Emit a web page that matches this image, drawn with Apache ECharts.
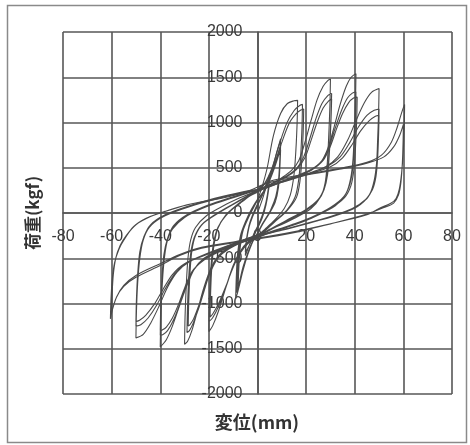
<!DOCTYPE html>
<html>
<head>
<meta charset="utf-8">
<script src="https://cdn.jsdelivr.net/npm/echarts@6/dist/echarts.min.js"></script>
<style>
  html, body { margin: 0; padding: 0; background: #ffffff; }
  #chart { width: 470px; height: 445px; }
</style>
</head>
<body>
<div id="chart"></div>
<script>
// Cyclic load test: displacement (mm) vs load (kgf), grouped by target amplitude.
// Each array is the recorded path [displacement, load] in loading order.

const xTicks = [-80, -60, -40, -20, 0, 20, 40, 60, 80];
const yTicks = [-2000, -1500, -1000, -500, 0, 500, 1000, 1500, 2000];

const amp5 = [
  [0,0],[2,150],[4,330],[5,430],[4.6,300],[3.5,120],[2,-20],[0,-150],[-2,-260],[-4,-400],[-5,-470],
  [-4.6,-330],[-3.5,-160],[-2,-40],[0,80],
  [2,200],[4,350],[5,400],[4.6,260],[3.5,90],[2,-50],[0,-170],[-2,-280],[-4,-390],[-5,-430],
  [-4.6,-300],[-3.5,-140],[-2,-20],[0,100]
];

const amp10 = [
  [0,100],[2,200],[4,320],[6,480],[8,680],[9.5,820],[9.2,600],[8.6,350],[7.5,180],[5.5,40],[3,-80],
  [0,-220],[-2,-320],[-4,-460],[-6,-640],[-8,-860],[-9,-950],[-8.7,-700],[-8.2,-450],[-7,-250],
  [-5,-100],[-2.5,40],[0,150],
  [3,260],[5,380],[7,540],[8.7,680],[9.5,750],[9.2,530],[8.6,300],[7.5,140],[5,10],[2,-120],[0,-220],
  [-2,-310],[-4,-440],[-6,-600],[-7.5,-770],[-8.5,-880],[-8.2,-650],[-7.6,-400],[-6.5,-220],[-4,-60],
  [-1.5,70],[0,140],
  [3,250],[5,360],[7,500],[8.7,640],[9.5,700],[9.2,500],[8.6,280],[7.3,120],[5,0],[2,-130],[0,-230],
  [-2,-320],[-4,-450],[-6,-600],[-7.3,-750],[-8,-850],[-7.7,-620],[-7.1,-380],[-6,-200],[-3.5,-40],
  [-1,90],[0,140]
];

const amp20 = [
  [0,140],[2,300],[4,500],[6.5,850],[9.5,1100],[12.3,1210],[15,1240],[16.5,1245],
  [16.3,1000],[15.8,700],[15,420],[13.5,200],[11,50],[7,-80],[3,-180],[0,-250],[-4,-320],[-7,-420],
  [-10,-580],[-13,-820],[-16,-1080],[-18.5,-1250],[-20,-1310],
  [-19.8,-1000],[-19.2,-650],[-18.3,-380],[-16.5,-180],[-13,-20],[-8,100],[-3,200],[0,250],
  [3,330],[6,500],[9,760],[12,990],[15,1130],[17.5,1190],[18.5,1200],[18.3,950],[17.8,650],[17,380],
  [15.5,180],[12,30],[7,-90],[3,-190],[0,-260],[-4,-330],[-7,-430],[-10,-590],[-13,-820],[-16,-1030],
  [-18.5,-1160],[-20,-1200],[-19.8,-950],[-19.2,-620],[-18.2,-350],[-16.3,-160],[-12,0],[-7,120],
  [-3,200],[0,240],
  [3,320],[7,530],[10,780],[13,990],[16,1100],[18,1140],[19,1150],[18.8,900],[18.3,620],[17.5,360],
  [16,170],[12,20],[7,-100],[3,-200],[0,-270],[-4,-340],[-7,-440],[-10,-600],[-13,-810],[-16,-1000],
  [-18.3,-1110],[-19.5,-1150],[-19.3,-900],[-18.8,-600],[-17.8,-340],[-16,-150],[-12,0],[-7,110],
  [-3,190],[0,230]
];

const amp30 = [
  [0,230],[5,310],[10,390],[14,470],[17,580],[19.5,780],[22,1020],[24.5,1250],[27,1400],[29,1465],[30,1480],
  [29.8,1200],[29.3,850],[28.7,550],[27.8,330],[26,180],[22,50],[15,-60],[8,-150],[0,-240],[-6,-300],
  [-12,-380],[-16,-470],[-19,-600],[-22,-820],[-24.5,-1060],[-27,-1300],[-28.8,-1420],[-30,-1450],
  [-29.8,-1150],[-29.3,-800],[-28.6,-500],[-27.5,-300],[-25.5,-160],[-21,-30],[-14,80],[-7,170],[0,250],
  [6,330],[12,410],[16,490],[19,620],[21.5,820],[24,1040],[26.5,1210],[29,1300],[30.5,1320],
  [30.2,1050],[29.6,720],[28.8,450],[27.5,280],[25,150],[20,40],[12,-80],[5,-180],[0,-250],[-6,-310],
  [-12,-390],[-16,-480],[-19,-620],[-21.5,-820],[-24,-1040],[-26.5,-1220],[-28,-1300],[-29,-1320],
  [-28.8,-1050],[-28.3,-720],[-27.5,-450],[-26,-270],[-23,-130],[-17,-10],[-10,100],[-4,190],[0,240],
  [6,320],[12,400],[16,480],[19.5,610],[22,800],[24.5,1000],[27,1160],[29.3,1240],[30.5,1260],
  [30.2,1000],[29.6,680],[28.8,420],[27.4,260],[25,140],[20,30],[12,-90],[5,-190],[0,-260],[-6,-320],
  [-12,-400],[-16,-490],[-19,-630],[-21.5,-810],[-24,-1010],[-26.3,-1170],[-27.8,-1235],[-28.5,-1250],
  [-28.3,-1000],[-27.8,-680],[-27,-420],[-25.5,-250],[-22.5,-120],[-16,0],[-9,110],[-3,200],[0,240]
];

const amp40 = [
  [0,240],[8,320],[16,400],[22,470],[26,560],[29,720],[31.5,950],[34,1200],[36.5,1400],[38.5,1500],[40.5,1540],
  [40.3,1250],[39.8,900],[39.3,600],[38.3,380],[36.5,220],[32,80],[24,-30],[14,-130],[5,-210],[0,-250],
  [-8,-320],[-16,-410],[-22,-500],[-26,-620],[-29,-800],[-32,-1020],[-35,-1250],[-37.5,-1400],[-40,-1480],
  [-39.8,-1200],[-39.3,-850],[-38.5,-550],[-37.3,-330],[-35,-180],[-30,-50],[-22,60],[-12,160],[-4,230],[0,260],
  [8,330],[16,410],[22,480],[26.5,580],[29.5,740],[32,940],[34.5,1130],[37,1270],[39,1325],[40.5,1340],
  [40.3,1080],[39.8,760],[39.2,500],[38,320],[35.5,180],[30,60],[22,-50],[12,-150],[4,-220],[0,-260],
  [-8,-330],[-16,-420],[-22,-510],[-26.5,-640],[-29.5,-820],[-32,-1010],[-34.5,-1180],[-37,-1300],[-39,-1345],[-40,-1350],
  [-39.8,-1080],[-39.3,-750],[-38.5,-480],[-37,-290],[-34.5,-150],[-29,-30],[-20,80],[-10,170],[-3,230],[0,250],
  [8,320],[16,400],[22,470],[27,580],[30,740],[32.5,930],[35,1100],[37.5,1220],[39.5,1270],[41,1280],
  [40.8,1030],[40.3,720],[39.6,470],[38.4,300],[35.8,170],[30,50],[22,-60],[12,-160],[4,-230],[0,-270],
  [-8,-340],[-16,-430],[-22,-520],[-27,-650],[-30,-830],[-32.5,-1010],[-35,-1160],[-37.5,-1260],[-39.3,-1295],[-40,-1300],
  [-39.8,-1040],[-39.3,-720],[-38.5,-460],[-37,-280],[-34.5,-140],[-29,-20],[-20,90],[-10,180],[-3,240],[0,260]
];

const amp50 = [
  [0,260],[10,350],[20,430],[28,510],[33,620],[37,800],[40.5,1020],[44,1220],[47,1335],[50,1375],
  [49.8,1100],[49.4,800],[49,560],[48,360],[46,200],[41,70],[32,-30],[20,-120],[10,-190],[0,-250],
  [-10,-340],[-20,-440],[-28,-540],[-33,-650],[-37,-820],[-40.5,-1030],[-44,-1220],[-47,-1340],[-50,-1380],
  [-49.8,-1100],[-49.3,-780],[-48.4,-500],[-47,-300],[-44.5,-160],[-39,-40],[-30,60],[-18,160],[-6,230],[0,260],
  [10,350],[20,430],[29,520],[34,620],[38,780],[41.5,950],[45,1080],[48,1135],[50,1150],
  [49.8,920],[49.4,650],[48.8,430],[47.5,280],[45,160],[40,60],[30,-40],[18,-130],[8,-200],[0,-250],
  [-10,-340],[-20,-440],[-29,-550],[-34,-670],[-38,-840],[-41.5,-1020],[-45,-1160],[-48,-1235],[-50,-1250],
  [-49.8,-1000],[-49.3,-700],[-48.4,-450],[-46.8,-270],[-44,-140],[-38,-30],[-28,70],[-16,160],[-5,230],[0,250],
  [10,340],[20,420],[30,510],[35,610],[39,760],[42.5,910],[46,1020],[48.5,1068],[50,1080],
  [49.8,860],[49.4,600],[48.7,400],[47.3,260],[44.5,150],[39,50],[29,-50],[17,-140],[7,-210],[0,-260],
  [-10,-350],[-20,-450],[-30,-560],[-35,-680],[-39,-850],[-42.5,-1010],[-46,-1130],[-48.5,-1185],[-50,-1200],
  [-49.8,-960],[-49.3,-680],[-48.4,-430],[-46.7,-260],[-44,-130],[-38,-20],[-28,80],[-16,170],[-5,240],[0,260]
];

const amp60 = [
  [0,260],[5,350],[20,430],[35,500],[45,560],[51,640],[55,780],[57.5,950],[59.3,1110],[60.5,1200],
  [60.4,1000],[60,700],[59.3,450],[58.3,260],[57,160],[55,110],[50,50],[45,-20],[30,-120],[18,-190],
  [4,-260],[-10,-320],[-23,-380],[-32,-460],[-40,-560],[-50,-690],[-55,-800],[-58,-930],[-59.8,-1080],
  [-60.5,-1170],[-60.3,-980],[-59.8,-750],[-58.8,-550],[-57,-400],[-55,-300],[-51,-150],[-46,-60],
  [-40,0],[-29,90],[-12,180],[-3,250],
  [4,330],[20,420],[35,490],[45,550],[52,620],[56,730],[58.5,860],[60,980],[59.9,800],[59.6,560],
  [59,340],[58,200],[56,110],[52,60],[45,-10],[30,-120],[18,-200],[4,-270],[-10,-330],[-23,-390],
  [-32,-470],[-40,-580],[-50,-710],[-55,-810],[-58,-930],[-60,-1100],[-59.8,-900],[-59.3,-680],
  [-58.3,-500],[-56.5,-360],[-54,-250],[-50,-130],[-44,-40],[-38,20]
];

const groups = [amp5, amp10, amp20, amp30, amp40, amp50, amp60];

const gridColor = '#575757';
const curveColor = '#4a4a4a';
const numFont = '"Liberation Sans", "DejaVu Sans", sans-serif';
const cjkFont = '"Noto Sans CJK JP", "Noto Sans CJK SC", sans-serif';

// Plot box; the axes are shifted onto the zero lines with offsets.
const gridLeft = 63, gridRight = 18, gridTop = 32, gridBottom = 51;
const plotW = 470 - gridLeft - gridRight;
const plotH = 445 - gridTop - gridBottom;

const chart = echarts.init(document.getElementById('chart'), null, { renderer: 'canvas' });

chart.setOption({
  animation: false,
  backgroundColor: '#ffffff',
  grid: { left: gridLeft, right: gridRight, top: gridTop, bottom: gridBottom, containLabel: false },
  xAxis: {
    type: 'value',
    position: 'bottom',
    offset: -plotH / 2,
    min: xTicks[0],
    max: xTicks[xTicks.length - 1],
    interval: 20,
    axisLine: { show: true, onZero: false, lineStyle: { color: gridColor, width: 1.6 } },
    axisTick: { show: false },
    axisLabel: {
      fontSize: 16, color: '#3a3a3a', margin: 16, fontFamily: numFont,
      formatter: function (v) { return String(v); }
    },
    splitLine: { show: true, lineStyle: { color: gridColor, width: 1.6 } }
  },
  yAxis: {
    type: 'value',
    position: 'left',
    offset: -plotW / 2,
    min: yTicks[0],
    max: yTicks[yTicks.length - 1],
    interval: 500,
    axisLine: { show: true, onZero: false, lineStyle: { color: gridColor, width: 1.6 } },
    axisTick: { show: false },
    axisLabel: {
      fontSize: 16, color: '#3a3a3a', margin: 15, fontFamily: numFont,
      formatter: function (v) { return String(v); }
    },
    splitLine: { show: true, lineStyle: { color: gridColor, width: 1.6 } }
  },
  graphic: [
    {
      type: 'rect',
      shape: { x: 7.5, y: 5.5, width: 459, height: 437 },
      style: { fill: 'none', stroke: '#8a8a8a', lineWidth: 1.5 },
      silent: true
    },
    {
      type: 'text',
      x: 257, y: 422,
      style: {
        text: '変位(mm)', font: 'bold 18px ' + cjkFont, fill: '#333',
        textAlign: 'center', textVerticalAlign: 'middle'
      }
    },
    {
      type: 'text',
      x: 33, y: 213,
      rotation: Math.PI / 2,
      style: {
        text: '荷重(kgf)', font: 'bold 17px ' + cjkFont, fill: '#333',
        textAlign: 'center', textVerticalAlign: 'middle'
      }
    }
  ],
  series: groups.map(function (g) {
    return {
      type: 'line',
      data: g,
      showSymbol: false,
      smooth: 0.3,
      lineStyle: { color: curveColor, width: 1.1 },
      silent: true
    };
  })
});
</script>
</body>
</html>
